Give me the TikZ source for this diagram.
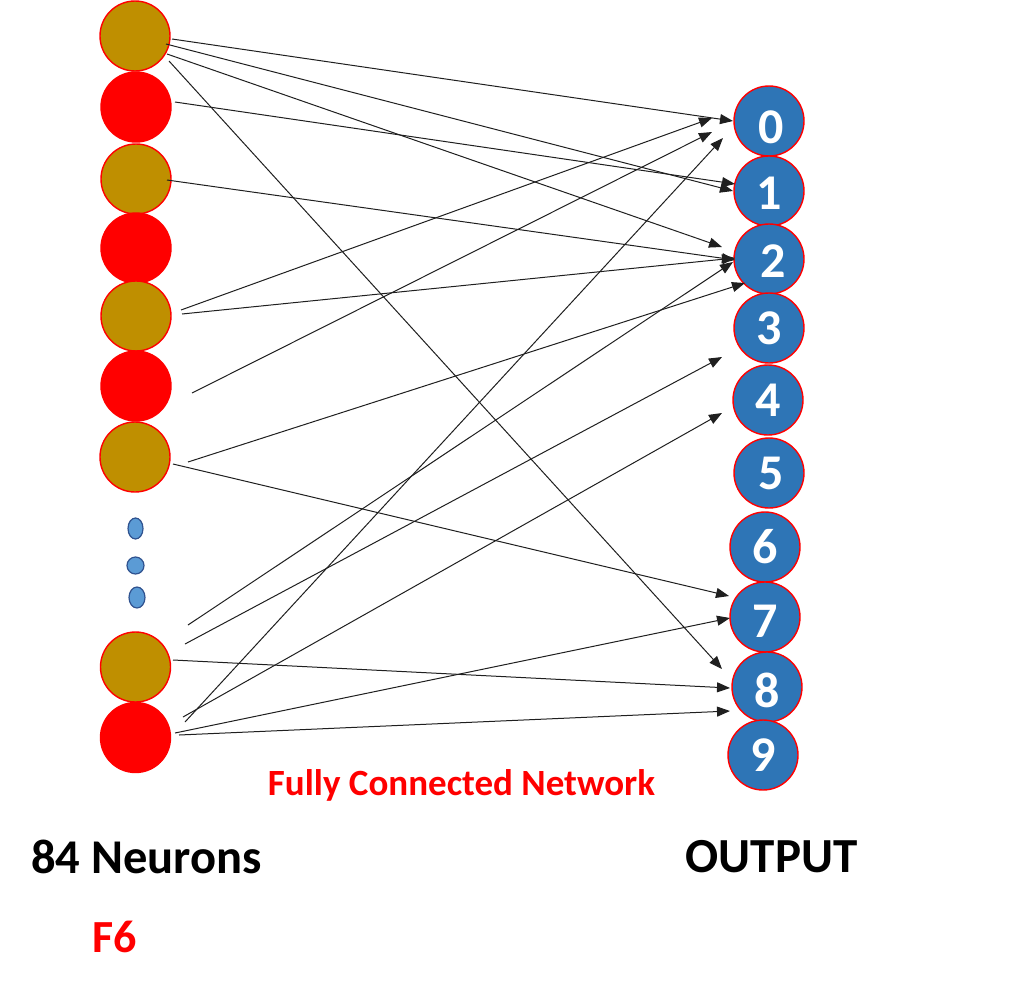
\documentclass[tikz,border=0pt]{standalone}
\usepackage{fontspec}
\setmainfont{Carlito}
\usetikzlibrary{arrows.meta,shapes.geometric}
\definecolor{goldc}{RGB}{191,143,0}
\definecolor{bluec}{RGB}{46,117,182}
\definecolor{dotc}{RGB}{91,155,213}
\definecolor{dotb}{RGB}{47,82,143}
\newcommand{\lowerdigit}[2]{\raisebox{-#1}[\height][0pt]{#2}}
\begin{document}
\begin{tikzpicture}[x=1pt,y=-1pt,
  neuron/.style={circle,minimum size=70pt,inner sep=0pt,draw=red,line width=1.4pt},
  goldn/.style={neuron,fill=goldc},
  redn/.style={neuron,fill=red},
  outn/.style={neuron,fill=bluec,text=white,font=\fontsize{50}{50}\selectfont\bfseries},
  dotn/.style={ellipse,draw=dotb,fill=dotc,line width=1.2pt,inner sep=0pt},
  conn/.style={draw=black!88,line width=1pt,-{Triangle[length=13pt,width=10pt]}},
  lbl/.style={anchor=base,font=\bfseries}
]
\useasboundingbox (0,0) rectangle (1024,998);
% left column
\node[goldn] (l1) at (135,36) {};
\node[redn]  (l2) at (136,107) {};
\node[goldn] (l3) at (136,179) {};
\node[redn]  (l4) at (136,248) {};
\node[goldn] (l5) at (136,316) {};
\node[redn]  (l6) at (136,386) {};
\node[goldn] (l7) at (135,457) {};
\node[dotn,minimum width=15pt,minimum height=21pt] (d1) at (135.5,528.5) {};
\node[dotn,minimum width=17pt,minimum height=17pt] (d2) at (135.5,565.5) {};
\node[dotn,minimum width=16pt,minimum height=21pt] (d3) at (137,597.5) {};
\node[goldn] (l8) at (135.5,667) {};
\node[redn]  (l9) at (135.5,737.5) {};
% output column
\node[outn] (o0) at (769,121) {\hspace*{5pt}\lowerdigit{6pt}{0}};
\node[outn] (o1) at (769,191) {\lowerdigit{2pt}{1}};
\node[outn] (o2) at (769,259) {\hspace*{8pt}\lowerdigit{2pt}{2}};
\node[outn] (o3) at (769,328) {3};
\node[outn] (o4) at (768,400) {4};
\node[outn] (o5) at (769,473) {\hspace*{4pt}5};
\node[outn] (o6) at (765,547) {6};
\node[outn] (o7) at (765,617) {\lowerdigit{4pt}{7}};
\node[outn] (o8) at (767,687) {\lowerdigit{3pt}{8}};
\node[outn] (o9) at (763,755) {9};
% connector end points
\coordinate (s1) at (172,39);   \coordinate (e1) at (733,121);
\coordinate (s2) at (166,44);   \coordinate (e2) at (733,191);
\coordinate (s3) at (167,54);   \coordinate (e3) at (722,247);
\coordinate (s4) at (169,61);   \coordinate (e4) at (722,669);
\coordinate (s5) at (175,102);  \coordinate (e5) at (735,184);
\coordinate (s6) at (167,180);  \coordinate (e6) at (735,260);
\coordinate (s7) at (181,310);  \coordinate (e7) at (712,118);
\coordinate (s8) at (182,314);  \coordinate (e8) at (735,258);
\coordinate (s9) at (192,393);  \coordinate (e9) at (712,132);
\coordinate (s10) at (188,462); \coordinate (e10) at (745,283);
\coordinate (s11) at (173,464); \coordinate (e11) at (729,596);
\coordinate (s12) at (188,625); \coordinate (e12) at (733,262);
\coordinate (s13) at (185,644); \coordinate (e13) at (722,357);
\coordinate (s14) at (173,660); \coordinate (e14) at (730,688);
\coordinate (s15) at (183,717); \coordinate (e15) at (722,413);
\coordinate (s16) at (185,722); \coordinate (e16) at (723,138);
\coordinate (s17) at (175,733); \coordinate (e17) at (730,618);
\coordinate (s18) at (179,735); \coordinate (e18) at (730,711);
\foreach \i in {1,...,18} {\draw[conn] (s\i) -- (e\i);}
% labels
\node[lbl,text=red,font=\fontsize{37}{37}\selectfont\bfseries] (fc) at (461.5,795) {Fully Connected Network};
\node[lbl,font=\fontsize{48.5}{48.5}\selectfont\bfseries] (nn) at (146.5,873) {84 Neurons};
\node[lbl,text=red,font=\fontsize{46}{46}\selectfont\bfseries] (f6) at (115,952) {F6};
\node[lbl,font=\fontsize{49}{49}\selectfont\bfseries] (out) at (771.5,872) {OUTPUT};
\end{tikzpicture}
\end{document}
